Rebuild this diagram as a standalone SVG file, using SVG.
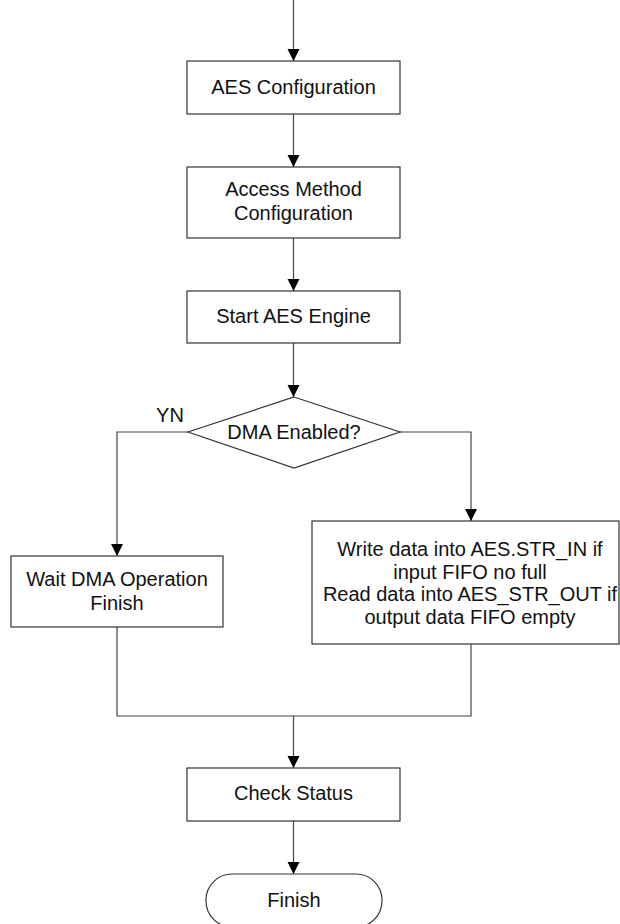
<svg xmlns="http://www.w3.org/2000/svg" width="620" height="924" viewBox="0 0 620 924">
<style>
.box{fill:#fff;stroke:#333;stroke-width:1.2}
.ln{fill:none;stroke:#444;stroke-width:1.2}
.t{font-family:"Liberation Sans",Arial,sans-serif;font-size:20px;fill:#111;text-anchor:middle}
</style>
<defs>
<marker id="ah" markerWidth="12" markerHeight="14" refX="12" refY="6" orient="auto" markerUnits="userSpaceOnUse" viewBox="0 0 12 12">
<path d="M0,0 L12,6 L0,12 Z" fill="#000"/>
</marker>
</defs>
<rect width="620" height="924" fill="#fff"/>
<g id="connectors">
<line class="ln" x1="293.5" y1="0" x2="293.5" y2="61" marker-end="url(#ah)"/>
<line class="ln" x1="293.5" y1="114" x2="293.5" y2="167" marker-end="url(#ah)"/>
<line class="ln" x1="293.5" y1="238" x2="293.5" y2="291" marker-end="url(#ah)"/>
<line class="ln" x1="293.5" y1="343" x2="293.5" y2="397" marker-end="url(#ah)"/>
<polyline class="ln" points="188,432 117,432 117,556" marker-end="url(#ah)"/>
<polyline class="ln" points="400,432 471,432 471,521" marker-end="url(#ah)"/>
<polyline class="ln" points="117,627 117,716 471,716 471,644"/>
<line class="ln" x1="293.5" y1="716" x2="293.5" y2="768" marker-end="url(#ah)"/>
<line class="ln" x1="293.5" y1="821" x2="293.5" y2="874" marker-end="url(#ah)"/>
<text class="t" x="170" y="422">YN</text>
</g>
<g id="aes-config">
<rect class="box" x="187" y="61" width="213" height="53"/>
<text class="t" x="293.5" y="94">AES Configuration</text>
</g>
<g id="access-method">
<rect class="box" x="187" y="167" width="213" height="71"/>
<text class="t" x="293.5" y="196">Access Method</text>
<text class="t" x="293.5" y="220">Configuration</text>
</g>
<g id="start-engine">
<rect class="box" x="187" y="291" width="213" height="52"/>
<text class="t" x="293.5" y="323">Start AES Engine</text>
</g>
<g id="dma-enabled">
<polygon class="box" points="294,397 400,432 294,468 188,432"/>
<text class="t" x="294" y="439">DMA Enabled?</text>
</g>
<g id="wait-dma">
<rect class="box" x="11" y="556" width="212" height="71"/>
<text class="t" x="117" y="586">Wait DMA Operation</text>
<text class="t" x="117" y="610">Finish</text>
</g>
<g id="write-read">
<rect class="box" x="312" y="521" width="307" height="123"/>
<text class="t" x="470" y="556">Write data into AES.STR_IN if</text>
<text class="t" x="470" y="579">input FIFO no full</text>
<text class="t" x="470" y="601">Read data into AES_STR_OUT if</text>
<text class="t" x="470" y="624">output data FIFO empty</text>
</g>
<g id="check-status">
<rect class="box" x="187" y="768" width="213" height="53"/>
<text class="t" x="293.5" y="800">Check Status</text>
</g>
<g id="finish">
<rect class="box" x="206" y="874" width="176" height="53" rx="26" ry="26"/>
<text class="t" x="294" y="907">Finish</text>
</g>
</svg>
